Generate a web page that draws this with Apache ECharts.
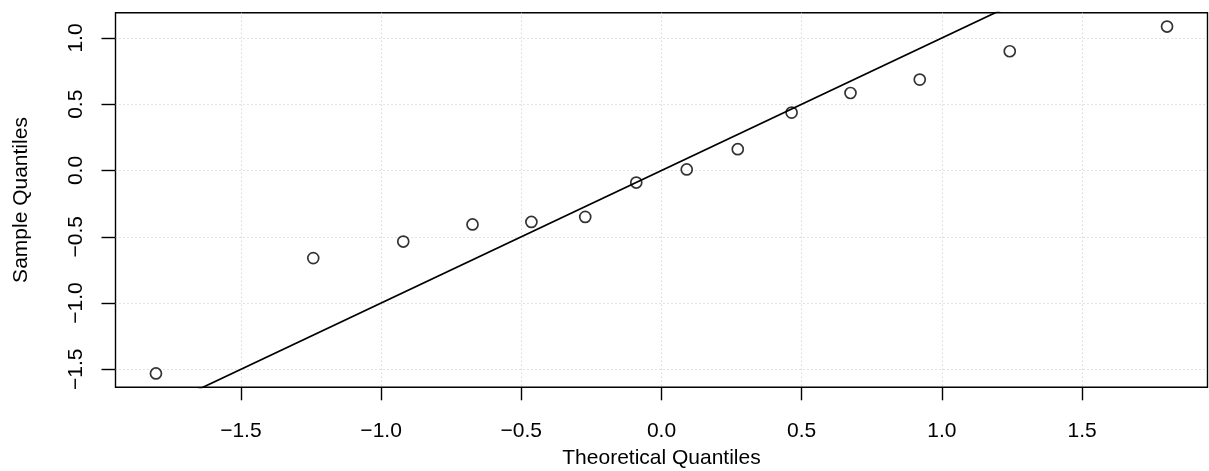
<!DOCTYPE html>
<html>
<head>
<meta charset="utf-8">
<script src="https://cdn.jsdelivr.net/npm/echarts@6/dist/echarts.min.js"></script>
<style>
  html, body { margin: 0; padding: 0; background: #fff; }
  #main { width: 1209px; height: 471px; }
</style>
</head>
<body>
<div id="main"></div>
<script>
// normal quantiles for n = 14 and the sorted sample
var theoretical = [-1.803, -1.242, -0.921, -0.674, -0.464, -0.272, -0.090, 0.090, 0.272, 0.464, 0.674, 0.921, 1.242, 1.803];
var sample = [-1.531, -0.661, -0.536, -0.407, -0.388, -0.350, -0.091, 0.008, 0.161, 0.437, 0.585, 0.686, 0.900, 1.086];
var xTicks = [-1.5, -1.0, -0.5, 0.0, 0.5, 1.0, 1.5];
var yTicks = [-1.5, -1.0, -0.5, 0.0, 0.5, 1.0];
var refLine = [[-2.5, -2.5], [2.5, 2.5]];   // y = x

// R style range: data range plus 4% each side
function padRange(arr) {
  var lo = Math.min.apply(null, arr), hi = Math.max.apply(null, arr);
  var r = hi - lo;
  return [lo - 0.04 * r, hi + 0.04 * r];
}
var xr = padRange(theoretical);
var yr = padRange(sample);

var font = "'Liberation Sans', Arial, sans-serif";
function fmt(v) {
  return v.toFixed(1).replace('-', '\u2212');
}
var gridLine = { show: true, lineStyle: { color: '#c4c4c4', type: [1, 3], width: 1 } };

var points = theoretical.map(function (x, i) { return [x, sample[i]]; });

var chart = echarts.init(document.getElementById('main'), null, { renderer: 'canvas' });
var option = {
  animation: false,
  backgroundColor: '#fff',
  grid: {
    left: 115.5, right: 1.5, top: 12.7, bottom: 83.7,
    outerBoundsMode: 'none', containLabel: false,
    show: true, borderColor: '#000', borderWidth: 1.4, backgroundColor: 'transparent'
  },
  xAxis: {
    type: 'value',
    min: xr[0], max: xr[1],
    axisLine: { show: false, onZero: false },
    axisTick: { show: true, length: 13, customValues: xTicks, lineStyle: { color: '#000', width: 1.4 } },
    axisLabel: {
      customValues: xTicks, formatter: fmt, color: '#000',
      fontFamily: font, fontSize: 21, margin: 33
    },
    splitLine: gridLine,
    name: 'Theoretical Quantiles',
    nameLocation: 'middle',
    nameGap: 60,
    nameTextStyle: { color: '#000', fontFamily: font, fontSize: 21 }
  },
  yAxis: {
    type: 'value',
    min: yr[0], max: yr[1],
    axisLine: { show: false, onZero: false },
    axisTick: { show: true, length: 14, customValues: yTicks, lineStyle: { color: '#000', width: 1.4 } },
    axisLabel: {
      customValues: yTicks, formatter: fmt, color: '#000',
      fontFamily: font, fontSize: 21, rotate: 90, margin: 29
    },
    splitLine: gridLine,
    name: 'Sample Quantiles',
    nameLocation: 'middle',
    nameGap: 84,
    nameTextStyle: { color: '#000', fontFamily: font, fontSize: 21 }
  },
  series: [
    {
      type: 'scatter',
      data: points,
      symbol: 'circle',
      symbolSize: 11,
      itemStyle: { color: 'rgba(0,0,0,0)', borderColor: '#000', borderWidth: 1.7 },
      emphasis: { disabled: true },
      z: 2
    },
    {
      type: 'line',
      data: refLine,
      showSymbol: false,
      clip: true,
      lineStyle: { color: '#000', width: 1.7 },
      emphasis: { disabled: true },
      z: 3
    }
  ]
};
chart.setOption(option);
</script>
</body>
</html>
